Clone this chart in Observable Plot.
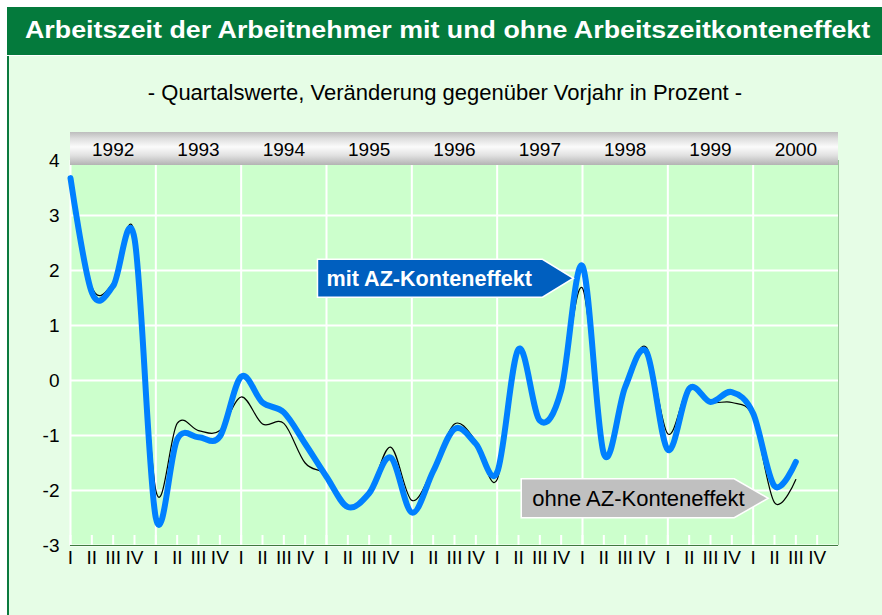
<!DOCTYPE html>
<html><head><meta charset="utf-8">
<script src="https://cdn.jsdelivr.net/npm/d3@7"></script>
<script src="https://cdn.jsdelivr.net/npm/@observablehq/plot@0.6"></script>
<style>
body{margin:0;background:#fff;font-family:Arial,"Liberation Sans",sans-serif}
#wrap{position:relative;width:882px;height:615px;overflow:hidden;background:#fff}
#panel{position:absolute;left:7px;top:56px;width:875px;height:559px;background:#e6fde6;border-left:2px solid #0b7a3e;box-sizing:border-box}
#title{position:absolute;left:7px;top:7px;width:875px;height:48px;background:#047a3c;box-sizing:border-box;overflow:hidden}
#title span{position:absolute;left:18px;top:0;color:#fff;font-weight:bold;font-size:23px;line-height:46px;white-space:nowrap;transform:scaleX(1.165);transform-origin:0 50%}
#sub{position:absolute;top:80px;left:0;width:890px;text-align:center;font-size:22px;color:#000}
#chart{position:absolute;left:0;top:0}
</style></head>
<body><div id="wrap">
<div id="panel"></div>
<div id="title"><span>Arbeitszeit der Arbeitnehmer mit und ohne Arbeitszeitkonteneffekt</span></div>
<div id="sub">- Quartalswerte, Veränderung gegenüber Vorjahr in Prozent -</div>
<div id="chart"></div>
</div>
<script>
const years = ["1992","1993","1994","1995","1996","1997","1998","1999","2000"];
const quarterNames = ["I","II","III","IV"];
const yTicks = [-3,-2,-1,0,1,2,3,4];
// mit AZ-Konteneffekt (1992 I .. 2000 III)
const mitAZ = [3.68,1.6,1.72,2.58, -2.5,-1.07,-1.03,-1.02, 0.07,-0.4,-0.58,-1.15, -1.75,-2.3,-2.05,-1.4, -2.4,-1.65,-0.88,-1.15, -1.67,0.57,-0.73,-0.18, 2.08,-1.33,-0.12,0.52, -1.26,-0.15,-0.39,-0.21, -0.6,-1.92,-1.48];
// ohne AZ-Konteneffekt
const ohneAZ = [3.7,1.7,1.78,2.68, -2.0,-0.78,-0.91,-0.91, -0.3,-0.79,-0.78,-1.5, -1.72,-2.3,-2.05,-1.21, -2.18,-1.6,-0.79,-1.1, -1.8,0.55,-0.73,-0.2, 1.68,-1.3,-0.1,0.6, -0.97,-0.1,-0.39,-0.4, -0.67,-2.22,-1.8];
const labelTexts = ["mit AZ-Konteneffekt","ohne AZ-Konteneffekt"];
const labelTipQuarter = [23.6, 32.73];
const labelTipValue = [1.85, -2.15];

const nQ = years.length * quarterNames.length;
const rows = mitAZ.map((v,i)=>({q:i, mit:v, ohne:ohneAZ[i]}));
const quarterTicks = d3.range(nQ);
const yearStarts = d3.range(years.length).map(k=>k*4);
const yearCenters = yearStarts.map(s=>s+2);
const labels = labelTexts.map((t,i)=>({text:t, x:labelTipQuarter[i], y:labelTipValue[i]}));

const labelStyle = [
  {w:225, h:38, tip:31, fill:"#005fbf", color:"#fff", weight:"bold", pad:9, size:21.6},
  {w:213, h:39, tip:34, fill:"#c0c0c0", color:"#000", weight:"normal", pad:11, size:22}
];

const defsMark = () => {
  const defs = d3.create("svg:defs");
  const lg = defs.append("linearGradient").attr("id","silver").attr("x1",0).attr("x2",0).attr("y1",0).attr("y2",1);
  [[0,"#bdbdbd"],[0.2,"#dedede"],[0.45,"#fbfbfb"],[0.7,"#e2e2e2"],[1,"#b3b3b3"]].forEach(([o,c])=>lg.append("stop").attr("offset",o).attr("stop-color",c));
  return defs.node();
};
const bandMark = (index, scales, values, dims) => {
  const g = d3.create("svg:g");
  g.append("rect").attr("x", scales.x(0)).attr("width", scales.x(nQ)-scales.x(0))
    .attr("y", dims.marginTop-28).attr("height", 33).attr("fill","url(#silver)");
  return g.node();
};
const labelMark = (index, scales, values, dims) => {
  const g = d3.create("svg:g").attr("text-anchor","start");
  labels.forEach((l,i)=>{
    const s = labelStyle[i];
    const tx = scales.x(l.x), ty = scales.y(l.y);
    const x0 = tx - s.tip - s.w;
    g.append("path").attr("d",`M${x0},${ty-s.h/2}H${tx-s.tip}L${tx},${ty}L${tx-s.tip},${ty+s.h/2}H${x0}Z`)
      .attr("fill", s.fill).attr("stroke","#fff").attr("stroke-width",1.5);
    g.append("text").attr("x", x0+s.pad).attr("y", ty+7.5).attr("fill", s.color).attr("text-anchor","start")
      .attr("font-weight", s.weight).attr("font-size", s.size).text(l.text);
  });
  return g.node();
};

const chart = Plot.plot({
  width: 882, height: 615,
  marginLeft: 70, marginRight: 44, marginTop: 160, marginBottom: 70,
  style: {background:"transparent", fontFamily:"Arial, 'Liberation Sans', sans-serif", color:"#000", overflow:"visible"},
  x: {domain:[0,nQ]},
  y: {domain:[-3,4]},
  marks: [
    defsMark,
    Plot.frame({fill:"#ccffcc", stroke:null}),
    Plot.gridY(yTicks, {stroke:"#fff", strokeOpacity:1, strokeWidth:2}),
    Plot.gridX(yearStarts, {stroke:"#fff", strokeOpacity:1, strokeWidth:2}),
    Plot.tickX(quarterTicks, {x:d=>d, stroke:"#fff", strokeWidth:2, insetTop:375}),
    Plot.ruleX([nQ], {stroke:"#9cc89c", strokeWidth:1}),
    Plot.ruleY([-3], {stroke:"#3f7a3f", strokeWidth:1}),
    bandMark,
    Plot.line(rows, {x:"q", y:"ohne", stroke:"#000", strokeWidth:1.2, curve:"cardinal"}),
    Plot.line(rows, {x:"q", y:"mit", stroke:"#0080ff", strokeWidth:6, curve:"cardinal"}),
    labelMark,
    Plot.axisY(yTicks, {anchor:"left", tickSize:0, tickPadding:11, fontSize:19, label:null, tickFormat:d=>String(d)}),
    Plot.axisX(quarterTicks, {anchor:"bottom", tickSize:0, tickPadding:5, fontSize:19, label:null, tickFormat:d=>quarterNames[d%4]}),
    Plot.axisX(yearCenters, {anchor:"top", tickSize:0, tickPadding:5, fontSize:19, label:null, tickFormat:d=>years[(d-2)/4]})
  ]
});
document.getElementById("chart").appendChild(chart);
</script>
</body></html>
